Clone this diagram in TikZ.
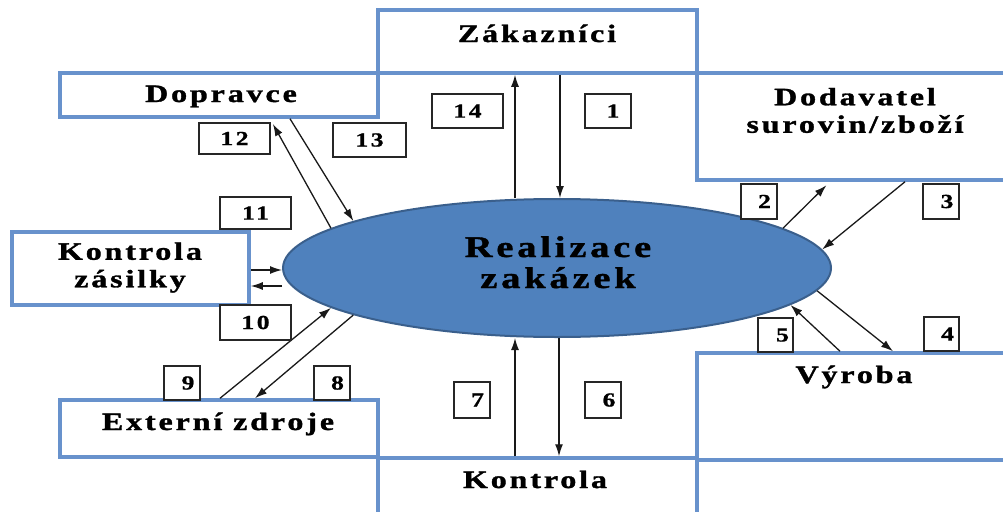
\documentclass[tikz,border=0pt]{standalone}
\usepackage{graphicx}
\usepackage{fontspec}
\setmainfont{Liberation Serif}
\newfontfamily\lblfont{Liberation Serif}[LetterSpace=9,FakeBold=1.2]
\newfontfamily\bigfont{Liberation Serif}[LetterSpace=10,FakeBold=1.2]
\newfontfamily\numfont{Liberation Serif}[LetterSpace=10,FakeBold=0.8]
\newcommand\wide[1]{\scalebox{1.28}[1]{#1}}
\usetikzlibrary{arrows.meta,shapes.geometric}
\definecolor{boxblue}{RGB}{104,146,204}
\definecolor{ellfill}{RGB}{79,129,189}
\definecolor{elldraw}{RGB}{58,95,140}
\begin{document}
\begin{tikzpicture}[x=1pt,y=-1pt,
  bigbox/.style={draw=boxblue,line width=3.5pt,fill=white,rectangle,inner sep=0pt},
  lbl/.style={font=\lblfont\bfseries\fontsize{25}{27.5}\selectfont,inner sep=0pt},
  numbox/.style={draw=black!85,line width=1.3pt,fill=white,rectangle,inner sep=0pt,
    font=\numfont\bfseries\fontsize{20}{22}\selectfont},
  arr/.style={draw=black!90,line width=1.3pt,-{Latex[length=12pt,width=8pt]}}
]
\useasboundingbox (0,0) rectangle (1003,511);
\clip (0,0) rectangle (1003,511);

% big boxes
\node[bigbox,minimum width=319pt,minimum height=63pt]  (zak) at (537.5,41.5) {};
\node[bigbox,minimum width=318pt,minimum height=44pt]  (dop) at (219,95) {};
\node[bigbox,minimum width=323pt,minimum height=107pt] (dod) at (858.5,126.5) {};
\node[bigbox,minimum width=237pt,minimum height=73pt]  (kz)  at (130.5,268.5) {};
\node[bigbox,minimum width=318pt,minimum height=57pt]  (ext) at (219,428.5) {};
\node[bigbox,minimum width=323pt,minimum height=107pt] (vyr) at (858.5,406.5) {};
\node[bigbox,minimum width=319pt,minimum height=72pt]  (kon) at (537.5,494) {};

% labels
\node[lbl,anchor=base] (zakT) at (537,42) {\wide{Zákazníci}};
\node[lbl,anchor=base] (dopT) at (221,102) {\wide{Dopravce}};
\node[lbl] (dodT) at (855,113.5) {\wide{\begin{tabular}{@{}c@{}}Dodavatel\\surovin/zboží\end{tabular}}};
\node[lbl] (kzT) at (130,268) {\wide{\begin{tabular}{@{}c@{}}Kontrola\\zásilky\end{tabular}}};
\node[lbl,anchor=base] (extT) at (218,430) {\wide{Externí zdroje}};
\node[lbl,anchor=base] (vyrT) at (854,383) {\wide{Výroba}};
\node[lbl,anchor=base] (konT) at (535,488) {\wide{Kontrola}};

% ellipse
\node[ellipse,draw=elldraw,fill=ellfill,line width=2pt,minimum width=548pt,minimum height=138pt,inner sep=0pt] (ell) at (557,268) {};
\node[inner sep=0pt,font=\bigfont\bfseries\fontsize{30}{31}\selectfont] (ellT) at (558,266.3) {\wide{\begin{tabular}{@{}c@{}}Realizace\\zakázek\end{tabular}}};

% arrows
\draw[arr] (ell.north -| 515,0) -- (zak.south -| 515,0);
\draw[arr] (zak.south -| 560,0) -- (ell.north -| 560,0);
\draw[arr,shorten >=5pt] (ell.10) -- (dod.south -| 830,0);
\draw[arr] (dod.south -| 905,0) -- (ell.4);
\draw[arr] (ell.-5) -- (vyr.north -| 893,0);
\draw[arr] (vyr.north -| 840,0) -- (ell.-9);
\draw[arr] (ell.south -| 559,0) -- (kon.north -| 559,0);
\draw[arr] (kon.north -| 515,0) -- (ell.south -| 515,0);
\draw[arr] (ell.193) -- (ext.north -| 255,0);
\draw[arr] (ext.north -| 220,0) -- (ell.190);
\draw[arr] (ell.west |- 0,286) -- (kz.east |- 0,286);
\draw[arr] (kz.east |- 0,270) -- (ell.west |- 0,270);
\draw[arr,shorten >=6pt] (ell.170) -- (dop.south -| 270,0);
\draw[arr] (dop.south -| 290,0) -- (ell.167);

% number boxes
\node[numbox,minimum width=71pt,minimum height=34pt] (n14) at (467.5,111) {\wide{14}};
\node[numbox,minimum width=46pt,minimum height=34pt] (n1)  at (608,111) {\hspace*{10pt}\wide{1}};
\node[numbox,minimum width=71pt,minimum height=31pt] (n12) at (234.5,138.5) {\wide{12}};
\node[numbox,minimum width=73pt,minimum height=34pt] (n13) at (369.5,140) {\wide{13}};
\node[numbox,minimum width=71pt,minimum height=32pt] (n11) at (255.5,213) {\wide{11}};
\node[numbox,minimum width=36pt,minimum height=35pt] (n2)  at (759,201.5) {\hspace*{11pt}\wide{2}};
\node[numbox,minimum width=36pt,minimum height=35pt] (n3)  at (941,201.5) {\hspace*{12pt}\wide{3}};
\node[numbox,minimum width=71pt,minimum height=35pt] (n10) at (255.5,322.5) {\wide{10}};
\node[numbox,minimum width=36pt,minimum height=34pt] (n9)  at (182,383) {\hspace*{12pt}\wide{9}};
\node[numbox,minimum width=36pt,minimum height=34pt] (n8)  at (332,383) {\hspace*{11pt}\wide{8}};
\node[numbox,minimum width=36pt,minimum height=36pt] (n7)  at (472,400) {\hspace*{11pt}\wide{7}};
\node[numbox,minimum width=36pt,minimum height=36pt] (n6)  at (603,400) {\hspace*{12pt}\wide{6}};
\node[numbox,minimum width=35pt,minimum height=34pt] (n5)  at (775.5,335) {\hspace*{14pt}\wide{5}};
\node[numbox,minimum width=35pt,minimum height=34pt] (n4)  at (941.5,334) {\hspace*{12pt}\wide{4}};
\end{tikzpicture}
\end{document}
